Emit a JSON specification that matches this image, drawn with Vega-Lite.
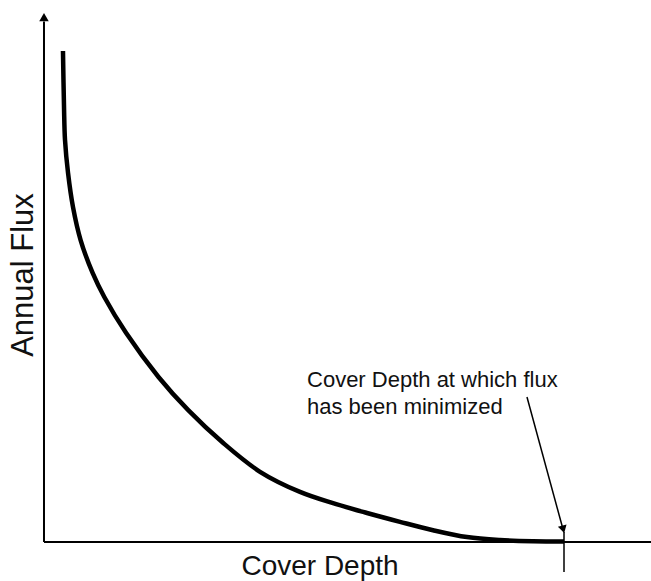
{
  "$schema": "https://vega.github.io/schema/vega-lite/v6.json",
  "width": 651,
  "height": 581,
  "padding": 0,
  "autosize": {"type": "none"},
  "config": {"view": {"stroke": null}, "font": "Liberation Sans"},
  "datasets": {
    "flux": [
      {"depth": 0.365, "flux": 100},
      {"depth": 0.385, "flux": 88.6},
      {"depth": 0.404, "flux": 81.9},
      {"depth": 0.462, "flux": 75.2},
      {"depth": 0.558, "flux": 68.2},
      {"depth": 0.704, "flux": 61.5},
      {"depth": 0.935, "flux": 54.8},
      {"depth": 1.160, "flux": 49.9},
      {"depth": 1.577, "flux": 42.6},
      {"depth": 2.202, "flux": 33.6},
      {"depth": 2.769, "flux": 26.9},
      {"depth": 3.442, "flux": 20.2},
      {"depth": 4.154, "flux": 14.3},
      {"depth": 4.923, "flux": 10.2},
      {"depth": 5.558, "flux": 7.9},
      {"depth": 6.212, "flux": 5.9},
      {"depth": 6.846, "flux": 4.1},
      {"depth": 7.481, "flux": 2.4},
      {"depth": 8.135, "flux": 1.0},
      {"depth": 8.769, "flux": 0.4},
      {"depth": 9.404, "flux": 0.16},
      {"depth": 10.0, "flux": 0.1}
    ],
    "blank": [{}]
  },
  "layer": [
    {
      "data": {"name": "blank"},
      "mark": {"type": "rule", "color": "#000000", "strokeWidth": 2},
      "encoding": {
        "x": {"datum": 0, "type": "quantitative", "scale": {"domain": [-0.846, 11.673], "nice": false, "zero": false}, "axis": null},
        "y": {"datum": 0, "type": "quantitative", "scale": {"domain": [-7.943, 110.387], "nice": false, "zero": false}, "axis": null},
        "y2": {"datum": 106}
      }
    },
    {
      "data": {"name": "blank"},
      "mark": {"type": "rule", "color": "#000000", "strokeWidth": 2},
      "encoding": {
        "x": {"datum": 0, "type": "quantitative"},
        "x2": {"datum": 11.673},
        "y": {"datum": 0, "type": "quantitative"}
      }
    },
    {
      "data": {"name": "blank"},
      "mark": {"type": "point", "shape": "triangle-up", "filled": true, "color": "#000000", "size": 90, "opacity": 1},
      "encoding": {
        "x": {"datum": 0, "type": "quantitative"},
        "y": {"datum": 106.9, "type": "quantitative"}
      }
    },
    {
      "data": {"name": "flux"},
      "mark": {"type": "line", "color": "#000000", "strokeWidth": 4.5, "interpolate": "catmull-rom", "strokeCap": "butt"},
      "encoding": {
        "x": {"field": "depth", "type": "quantitative"},
        "y": {"field": "flux", "type": "quantitative"}
      }
    },
    {
      "data": {"name": "blank"},
      "mark": {"type": "rule", "color": "#000000", "strokeWidth": 1.5},
      "encoding": {
        "x": {"datum": 10, "type": "quantitative"},
        "y": {"datum": 2.04, "type": "quantitative"},
        "y2": {"datum": -6.11}
      }
    },
    {
      "data": {"name": "blank"},
      "mark": {"type": "rule", "color": "#000000", "strokeWidth": 1.5},
      "encoding": {
        "x": {"datum": 9.288, "type": "quantitative"},
        "y": {"datum": 29.53, "type": "quantitative"},
        "x2": {"datum": 9.99},
        "y2": {"datum": 2.24}
      }
    },
    {
      "data": {"name": "blank"},
      "mark": {"type": "point", "shape": "triangle-down", "filled": true, "color": "#000000", "size": 80, "opacity": 1, "angle": -15},
      "encoding": {
        "x": {"datum": 9.985, "type": "quantitative"},
        "y": {"datum": 2.57, "type": "quantitative"}
      }
    },
    {
      "data": {"name": "blank"},
      "mark": {"type": "text", "text": "Cover Depth at which flux", "align": "left", "baseline": "alphabetic", "fontSize": 22, "font": "Liberation Sans", "color": "#111111"},
      "encoding": {
        "x": {"datum": 5.058, "type": "quantitative"},
        "y": {"datum": 31.57, "type": "quantitative"}
      }
    },
    {
      "data": {"name": "blank"},
      "mark": {"type": "text", "text": "has been minimized", "align": "left", "baseline": "alphabetic", "fontSize": 22, "font": "Liberation Sans", "color": "#111111"},
      "encoding": {
        "x": {"datum": 5.058, "type": "quantitative"},
        "y": {"datum": 26.07, "type": "quantitative"}
      }
    },
    {
      "data": {"name": "blank"},
      "mark": {"type": "text", "text": "Cover Depth", "align": "center", "baseline": "alphabetic", "fontSize": 28, "font": "Liberation Sans", "color": "#111111"},
      "encoding": {
        "x": {"datum": 5.308, "type": "quantitative"},
        "y": {"datum": -6.8, "type": "quantitative"}
      }
    },
    {
      "data": {"name": "blank"},
      "mark": {"type": "text", "text": "Annual Flux", "align": "center", "baseline": "alphabetic", "angle": 270, "fontSize": 31, "font": "Liberation Sans", "color": "#111111"},
      "encoding": {
        "x": {"datum": -0.2115, "type": "quantitative"},
        "y": {"datum": 54.38, "type": "quantitative"}
      }
    }
  ]
}
